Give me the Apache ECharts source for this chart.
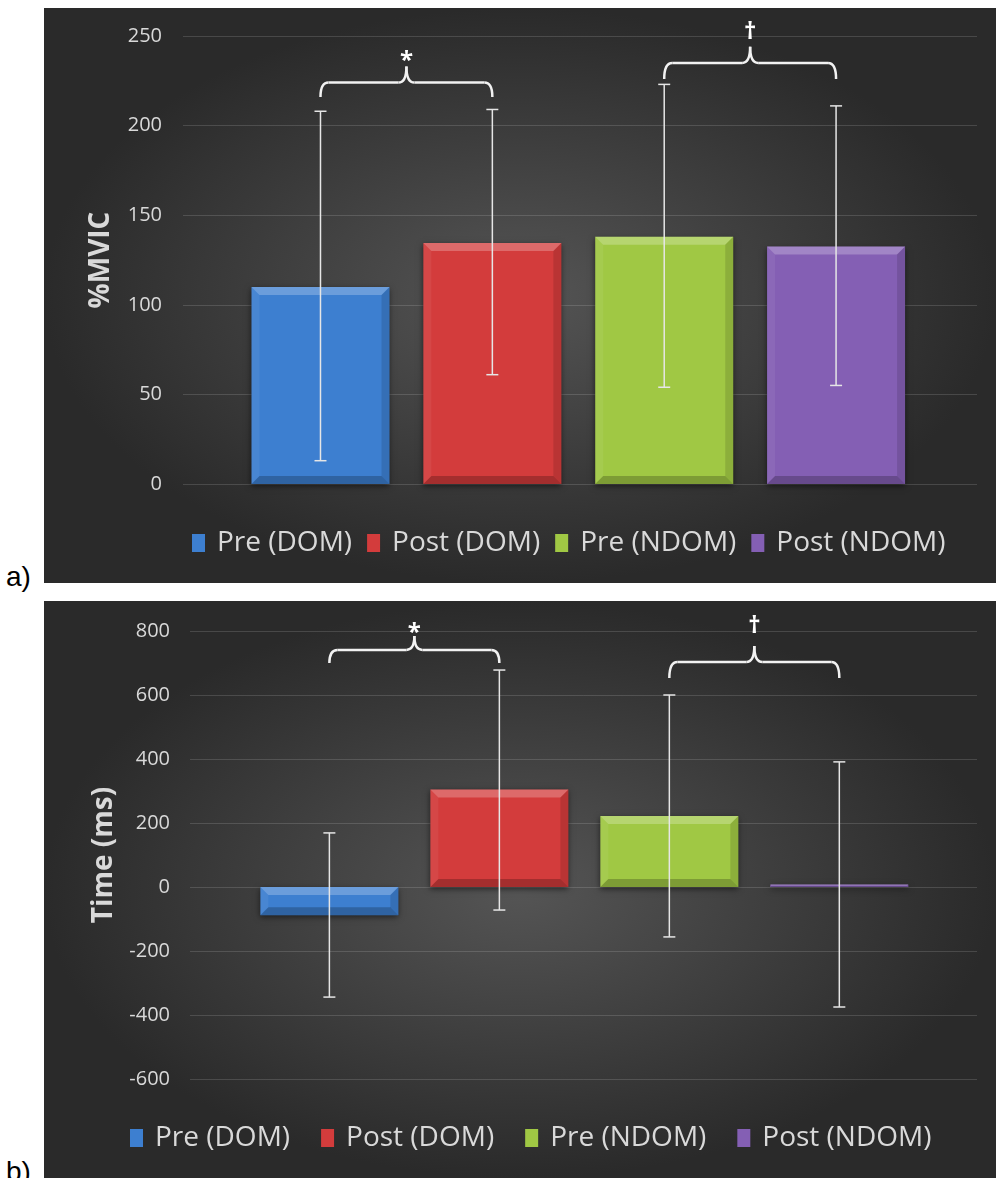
<!DOCTYPE html>
<html><head><meta charset="utf-8">
<script src="https://cdn.jsdelivr.net/npm/echarts@6/dist/echarts.min.js"></script>
<style>
html,body{margin:0;padding:0;background:#fff;width:996px;height:1178px;overflow:hidden;position:relative;}
.panel{position:absolute;left:44px;width:952px;background:radial-gradient(ellipse closest-side at 50% 50%, #555555 0%, #2a2a2a 100%);}
#chartA{top:8px;height:575px;}
#chartB{top:601px;height:577px;}
.lbl{position:absolute;left:6px;font-family:'Liberation Sans',Arial,sans-serif;font-size:28px;line-height:28px;color:#000;}
</style></head><body>
<div id="chartA" class="panel"></div>
<div id="chartB" class="panel"></div>
<div class="lbl" style="top:563px">a)</div>
<div class="lbl" style="top:1158px">b)</div>
<script>
// ---------- shared ----------
const seriesNames = ['Pre (DOM)', 'Post (DOM)', 'Pre (NDOM)', 'Post (NDOM)'];
const seriesColors = ['#3d7fd0', '#d33c3c', '#a0c844', '#845fb4'];

// ---------- panel a: %MVIC ----------
const mvicMeans = [110, 134.5, 138, 132.5];
const mvicLow   = [13, 61, 54, 55];
const mvicHigh  = [208, 209, 223, 211];
const mvicTicks = [0, 50, 100, 150, 200, 250];
const braceFromA  = [0, 2];
const braceToA    = [1, 3];
const braceLevelA = [224, 235];
const braceEndA   = [216, 226];
const braceTipA   = [233, 244];
const braceMarkA  = ['*', '†'];
const braceMarkYA = [236, 252];

// ---------- panel b: Time (ms) ----------
const timeMeans = [-88, 305, 222, 8];
const timeLow   = [-344, -72, -156, -375];
const timeHigh  = [169, 678, 600, 391];
const timeTicks = [-600, -400, -200, 0, 200, 400, 600, 800];
const braceFromB  = [0, 2];
const braceToB    = [1, 3];
const braceLevelB = [741, 703];
const braceEndB   = [700, 653];
const braceTipB   = [784, 753];
const braceMarkB  = ['*', '†'];
const braceMarkYB = [794, 814];

const BAR_W = 138;
const FONT = "'Open Sans', 'Noto Sans', sans-serif";

function buildOption(cfg) {
  const series = [];
  seriesNames.forEach((name, i) => {
    series.push({
      name, type: 'bar', barWidth: BAR_W, barGap: '-100%', z: 2,
      data: [[i, cfg.means[i]]],
      itemStyle: {
        color: seriesColors[i],
        shadowBlur: 6, shadowColor: 'rgba(0,0,0,0.55)', shadowOffsetY: 2
      },
      silent: true
    });
  });
  // bevel overlay
  series.push({
    type: 'custom', silent: true, clip: false, z: 3,
    data: cfg.means.map((v, i) => [i, v]),
    renderItem(params, api) {
      const x = api.value(0), v = api.value(1);
      const pv = api.coord([x, v]), p0 = api.coord([x, 0]);
      const L = pv[0] - BAR_W / 2, R = pv[0] + BAR_W / 2;
      const T = Math.min(pv[1], p0[1]), B = Math.max(pv[1], p0[1]);
      const b = Math.min(8, (B - T) / 2);
      const poly = (pts, fill) => ({ type: 'polygon', shape: { points: pts }, style: { fill } });
      return { type: 'group', children: [
        poly([[L, T], [R, T], [R - b, T + b], [L + b, T + b]], 'rgba(255,255,255,0.24)'),
        poly([[L, T], [L + b, T + b], [L + b, B - b], [L, B]], 'rgba(255,255,255,0.06)'),
        poly([[R, T], [R - b, T + b], [R - b, B - b], [R, B]], 'rgba(0,0,0,0.12)'),
        poly([[L, B], [R, B], [R - b, B - b], [L + b, B - b]], 'rgba(0,0,0,0.22)')
      ]};
    }
  });
  // error bars
  series.push({
    type: 'custom', silent: true, clip: false, z: 4,
    data: cfg.means.map((v, i) => [i, cfg.low[i], cfg.high[i]]),
    renderItem(params, api) {
      const x = api.value(0);
      const pl = api.coord([x, api.value(1)]), ph = api.coord([x, api.value(2)]);
      const c = 6, st = { stroke: '#e6e6e6', lineWidth: 1.5 };
      return { type: 'group', children: [
        { type: 'line', shape: { x1: pl[0], y1: pl[1], x2: ph[0], y2: ph[1] }, style: st },
        { type: 'line', shape: { x1: ph[0] - c, y1: ph[1], x2: ph[0] + c, y2: ph[1] }, style: st },
        { type: 'line', shape: { x1: pl[0] - c, y1: pl[1], x2: pl[0] + c, y2: pl[1] }, style: st }
      ]};
    }
  });
  // braces with significance marks
  series.push({
    type: 'custom', silent: true, clip: false, z: 5,
    data: cfg.braceFrom.map((f, i) => [f, cfg.braceTo[i], cfg.braceLevel[i], cfg.braceEnd[i], cfg.braceTip[i], cfg.braceMarkY[i]]),
    renderItem(params, api) {
      const f = api.value(0), t = api.value(1);
      const pL = api.coord([f, api.value(2)]), pR = api.coord([t, api.value(2)]);
      const yH = pL[1];
      const yE = api.coord([f, api.value(3)])[1];
      const yT = api.coord([f, api.value(4)])[1];
      const yM = api.coord([f, api.value(5)])[1];
      const xL = pL[0], xR = pR[0], xm = (xL + xR) / 2, r = 8;
      const st = { stroke: '#f2f2f2', lineWidth: 2.5, fill: null };
      return { type: 'group', children: [
        { type: 'bezierCurve', shape: { x1: xL, y1: yE, x2: xL + r, y2: yH, cpx1: xL, cpy1: yH }, style: st },
        { type: 'line', shape: { x1: xL + r, y1: yH, x2: xm - r, y2: yH }, style: st },
        { type: 'bezierCurve', shape: { x1: xm - r, y1: yH, x2: xm, y2: yT, cpx1: xm, cpy1: yH }, style: st },
        { type: 'bezierCurve', shape: { x1: xm, y1: yT, x2: xm + r, y2: yH, cpx1: xm, cpy1: yH }, style: st },
        { type: 'line', shape: { x1: xm + r, y1: yH, x2: xR - r, y2: yH }, style: st },
        { type: 'bezierCurve', shape: { x1: xR - r, y1: yH, x2: xR, y2: yE, cpx1: xR, cpy1: yH }, style: st },
        { type: 'text', style: { text: cfg.braceMark[params.dataIndex], x: xm, y: yM, align: 'center', verticalAlign: 'middle', fill: '#ffffff', font: 'bold 24px ' + FONT } }
      ]};
    }
  });

  return {
    animation: false,
    backgroundColor: 'transparent',
    grid: cfg.grid,
    legend: {
      data: seriesNames, icon: 'rect', itemWidth: 13, itemHeight: 18,
      itemGap: cfg.legendGap, left: cfg.legendLeft, top: cfg.legendTop,
      textStyle: { color: '#d9d9d9', fontSize: 28, fontFamily: FONT, padding: [0, 0, 0, 7] }
    },
    xAxis: { type: 'value', min: cfg.xMin, max: cfg.xMax, show: false },
    yAxis: {
      type: 'value', min: cfg.ticks[0], max: cfg.ticks[cfg.ticks.length - 1],
      interval: cfg.ticks[1] - cfg.ticks[0],
      name: cfg.yName, nameLocation: 'middle', nameGap: cfg.nameGap,
      nameTextStyle: { color: '#d9d9d9', fontSize: 28, fontWeight: 'bold', fontFamily: FONT },
      axisLine: { show: false }, axisTick: { show: false },
      axisLabel: { color: '#d9d9d9', fontSize: 20, fontFamily: FONT, margin: cfg.labelMargin },
      splitLine: { lineStyle: { color: 'rgba(255,255,255,0.14)', width: 1 } }
    },
    series
  };
}

const chartA = echarts.init(document.getElementById('chartA'), null, { renderer: 'canvas' });
chartA.setOption(buildOption({
  means: mvicMeans, low: mvicLow, high: mvicHigh, ticks: mvicTicks,
  braceFrom: braceFromA, braceTo: braceToA, braceLevel: braceLevelA, braceEnd: braceEndA,
  braceTip: braceTipA, braceMark: braceMarkA, braceMarkY: braceMarkYA,
  grid: { left: 139, right: 19, top: 28, bottom: 99 },
  xMin: -0.80, xMax: 3.82, yName: '%MVIC', nameGap: 68, labelMargin: 21,
  legendLeft: 143, legendTop: 516, legendGap: 15
}));

const chartB = echarts.init(document.getElementById('chartB'), null, { renderer: 'canvas' });
chartB.setOption(buildOption({
  means: timeMeans, low: timeLow, high: timeHigh, ticks: timeTicks,
  braceFrom: braceFromB, braceTo: braceToB, braceLevel: braceLevelB, braceEnd: braceEndB,
  braceTip: braceTipB, braceMark: braceMarkB, braceMarkY: braceMarkYB,
  grid: { left: 146, right: 19, top: 30, bottom: 99 },
  xMin: -0.82, xMax: 3.81, yName: 'Time (ms)', nameGap: 68, labelMargin: 20,
  legendLeft: 81, legendTop: 518, legendGap: 31
}));
</script>
</body></html>
